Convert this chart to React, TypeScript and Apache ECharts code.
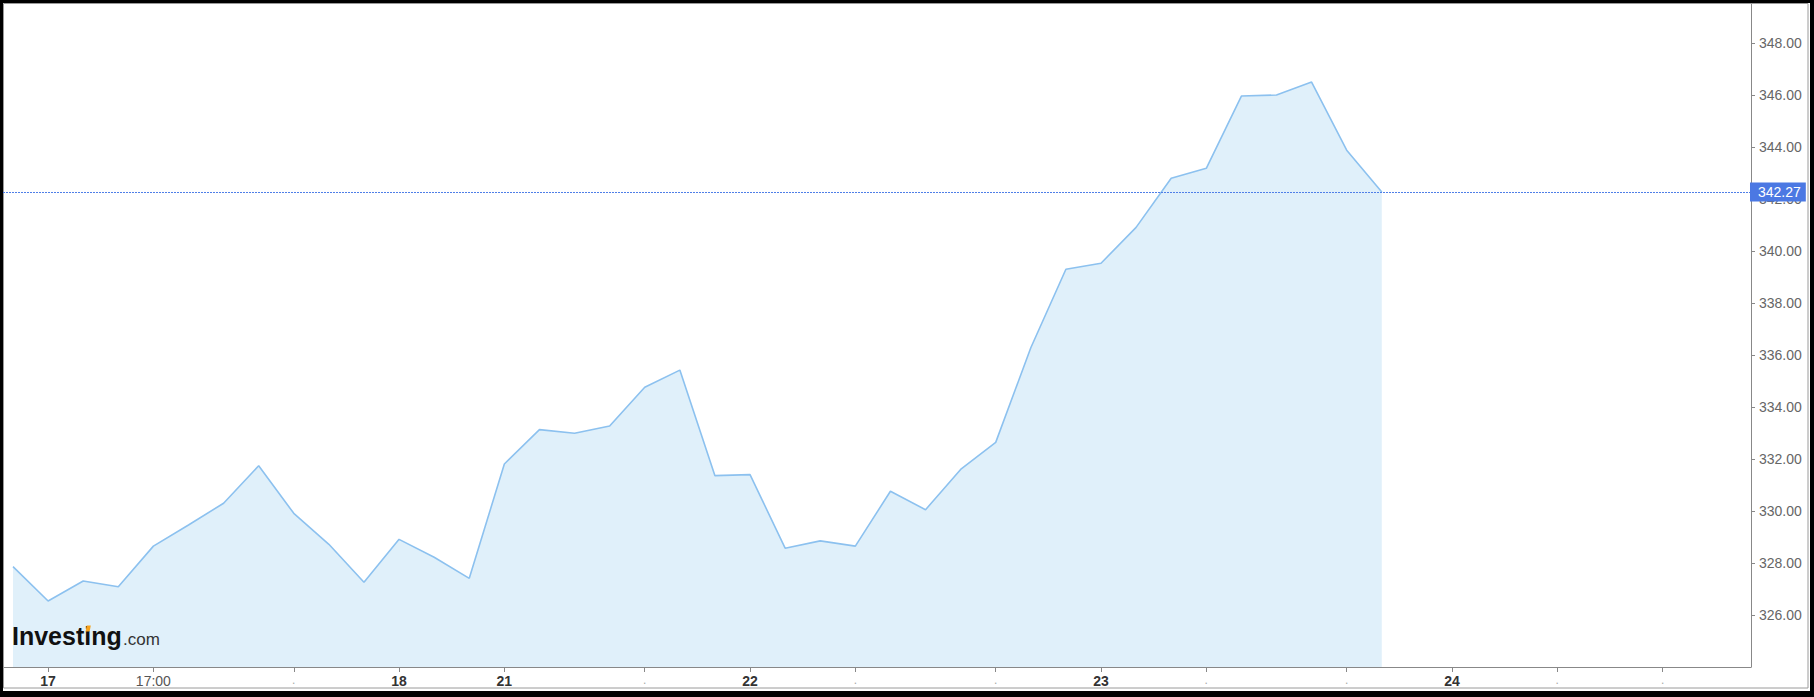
import React, { useEffect, useRef } from "react";
import * as echarts from "echarts";

// Hourly closing prices (index = sample position on the time axis)
const prices = [
  327.86, 326.54, 327.31, 327.09, 328.65, 329.46, 330.30, 331.74, 329.91, 328.72,
  327.26, 328.91, 328.22, 327.41, 331.81, 333.13, 332.99, 333.27, 334.76, 335.42,
  331.36, 331.40, 328.57, 328.85, 328.65, 330.76, 330.05, 331.60, 332.64, 336.28,
  339.30, 339.53, 340.91, 342.80, 343.18, 345.96, 346.00, 346.50, 343.88, 342.27,
];
const lastPrice = 342.27;

// x axis ticks (sample positions) and their labels
const tickIndices = [1, 4, 8, 11, 14, 18, 21, 24, 28, 31, 34, 38, 41, 44, 47];
const tickLabels = ["17", "17:00", ".", "18", "21", ".", "22", ".", ".", "23", ".", ".", "24", ".", "."];

// y axis tick values
const yTicks = [326, 328, 330, 332, 334, 336, 338, 340, 342, 344, 346, 348];

const FONT = "Arial, 'Liberation Sans', sans-serif";

export default function App() {
  const ref = useRef<HTMLDivElement>(null);

  useEffect(() => {
    if (!ref.current) return;
    const chart = echarts.init(ref.current, undefined, { renderer: "svg" });
    chart.setOption({
      animation: false,
      backgroundColor: "#ffffff",
      grid: { left: 0, right: 59, top: 0, bottom: 24 },
      xAxis: {
        type: "value",
        min: -0.285,
        max: 49.52,
        splitLine: { show: false },
        axisLine: { show: true, onZero: false, lineStyle: { color: "#888", width: 1 } },
        axisTick: { show: true, customValues: tickIndices, length: 5, lineStyle: { color: "#888" } },
        axisLabel: {
          show: true,
          customValues: tickIndices,
          margin: 7,
          formatter: (val: number) => {
            const k = tickIndices.indexOf(Math.round(val));
            if (k < 0) return "";
            const t = tickLabels[k];
            if (t === ".") return "{d|.}";
            if (t.indexOf(":") >= 0) return "{t|" + t + "}";
            return "{b|" + t + "}";
          },
          rich: {
            b: { fontFamily: FONT, fontSize: 14, fontWeight: "bold", color: "#333" },
            t: { fontFamily: FONT, fontSize: 14, color: "#555" },
            d: { fontFamily: FONT, fontSize: 12, color: "#aaa" },
          },
        },
      },
      yAxis: {
        type: "value",
        position: "right",
        min: 324,
        max: 349.54,
        splitLine: { show: false },
        axisLine: { show: true, onZero: false, lineStyle: { color: "#888", width: 1 } },
        axisTick: { show: true, customValues: yTicks, length: 4, lineStyle: { color: "#888" } },
        axisLabel: {
          show: true,
          customValues: yTicks,
          margin: 8,
          fontFamily: FONT,
          fontSize: 14,
          color: "#666",
          formatter: (v: number) => v.toFixed(2),
        },
      },
      series: [
        {
          type: "line",
          data: prices.map((v, i) => [i, v]),
          showSymbol: false,
          symbol: "none",
          lineStyle: { color: "#8cc1ef", width: 1.6 },
          areaStyle: { color: "#e0f0fa", opacity: 1, origin: "start" },
          z: 2,
          markLine: {
            silent: true,
            symbol: ["none", "none"],
            lineStyle: { color: "#4f7fe8", type: [2, 1], width: 1 },
            label: {
              show: true,
              position: "end",
              distance: -1,
              formatter: () => lastPrice.toFixed(2),
              backgroundColor: "#4b78e3",
              color: "#ffffff",
              fontFamily: FONT,
              fontSize: 14,
              padding: [3, 5, 2, 8],
            },
            data: [{ yAxis: lastPrice }],
          },
        },
      ],
      graphic: [
        {
          type: "rect",
          silent: true,
          shape: { x: 0.5, y: 0.5, width: 1804.5, height: 684.5 },
          style: { fill: "none", stroke: "#9a9a9a", lineWidth: 1 },
          z: 1,
        },
        {
          type: "text",
          x: 9,
          y: 633.3,
          z: 100,
          style: {
            text: "Investing",
            fontFamily: FONT,
            fontSize: 25,
            fontWeight: "bold",
            fill: "#111",
            verticalAlign: "middle",
            align: "left",
          },
        },
        {
          type: "text",
          x: 120,
          y: 636.1,
          z: 100,
          style: {
            text: ".com",
            fontFamily: FONT,
            fontSize: 17,
            fill: "#333",
            verticalAlign: "middle",
            align: "left",
          },
        },
        {
          type: "polygon",
          z: 101,
          shape: {
            points: [
              [82.6, 628.4],
              [83.8, 622.6],
              [87.8, 622.6],
              [86.6, 628.4],
            ],
          },
          style: { fill: "#f7a21b" },
        },
      ],
    });
    return () => chart.dispose();
  }, []);

  return (
    <div style={{ position: "absolute", left: 0, top: 0, width: 1814, height: 697, background: "#000" }}>
      <div
        ref={ref}
        style={{ position: "absolute", left: 3, top: 3, width: 1807, height: 688, background: "#fff" }}
      />
    </div>
  );
}
